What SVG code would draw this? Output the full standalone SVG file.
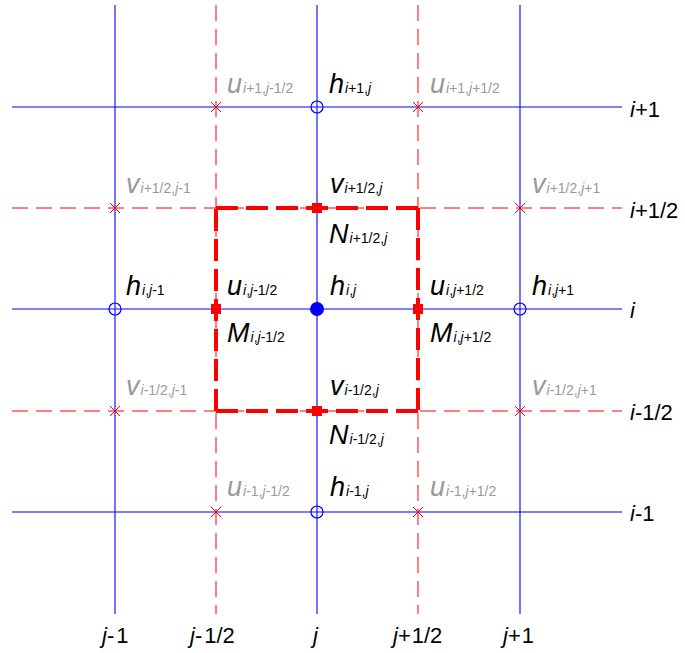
<svg xmlns="http://www.w3.org/2000/svg" width="685" height="653" viewBox="0 0 685 653">
<style>
text{font-family:"Liberation Sans",Arial,sans-serif;}
.L{font-size:27px;}
.A{font-size:22px;fill:#000;}
.k{fill:#000;}
.g{fill:#999;}
.it{font-style:italic;}
.s{font-size:14px;}
.bl{stroke:#0000ff;stroke-width:1.1;fill:none;}
.rd{stroke:#ff0000;stroke-width:1;fill:none;stroke-dasharray:16 8;}
.box{stroke:#ff0000;stroke-width:4;fill:none;stroke-dasharray:22 8;}
.x{stroke:#ff0000;stroke-width:1;fill:none;}
.oc{stroke:#0000ff;stroke-width:1.2;fill:none;}
</style>
<defs>
<g id="xm"><path d="M-5,-5L5,5M-5,5L5,-5" class="x"/></g>
<circle id="oc" r="6" class="oc"/>
<rect id="sq" x="-5" y="-5" width="10" height="10" fill="#ff0000"/>
</defs>
<g id="grid">
<line class="bl" x1="115" y1="5" x2="115" y2="614"/>
<line class="bl" x1="317" y1="5" x2="317" y2="614"/>
<line class="bl" x1="520" y1="5" x2="520" y2="614"/>
<line class="rd" x1="216" y1="5" x2="216" y2="614"/>
<line class="rd" x1="418" y1="5" x2="418" y2="614"/>
<line class="bl" x1="12" y1="107" x2="622" y2="107"/>
<line class="bl" x1="12" y1="309" x2="622" y2="309"/>
<line class="bl" x1="12" y1="512" x2="622" y2="512"/>
<line class="rd" x1="12" y1="208" x2="622" y2="208"/>
<line class="rd" x1="12" y1="411" x2="622" y2="411"/>
</g>
<g id="cell">
<line class="box" x1="216" y1="208" x2="418" y2="208"/>
<line class="box" x1="418" y1="208" x2="418" y2="411"/>
<line class="box" x1="418" y1="411" x2="216" y2="411"/>
<line class="box" x1="216" y1="411" x2="216" y2="208"/>
</g>
<g id="markers">
<use href="#xm" x="216" y="107"/>
<use href="#xm" x="418" y="107"/>
<use href="#xm" x="115" y="208"/>
<use href="#xm" x="520" y="208"/>
<use href="#xm" x="115" y="411"/>
<use href="#xm" x="520" y="411"/>
<use href="#xm" x="216" y="512"/>
<use href="#xm" x="418" y="512"/>
<use href="#oc" x="317" y="107"/>
<use href="#oc" x="115" y="309"/>
<use href="#oc" x="520" y="309"/>
<use href="#oc" x="317" y="512"/>
<circle cx="317" cy="309" r="7" fill="#0000ff"/>
<use href="#sq" x="317" y="208"/>
<use href="#sq" x="216" y="309"/>
<use href="#sq" x="418" y="309"/>
<use href="#sq" x="317" y="411"/>
</g>
<g id="labels">
<text class="L g" x="227" y="93"><tspan class="it">u</tspan><tspan class="s" dx="1"><tspan class="it">i</tspan>+1,<tspan class="it">j</tspan>-1/2</tspan></text>
<text class="L k" x="329" y="93"><tspan class="it">h</tspan><tspan class="s" dx="1"><tspan class="it">i</tspan>+1,<tspan class="it">j</tspan></tspan></text>
<text class="L g" x="430" y="93"><tspan class="it">u</tspan><tspan class="s" dx="1"><tspan class="it">i</tspan>+1,<tspan class="it">j</tspan>+1/2</tspan></text>

<text class="L g" x="126" y="193"><tspan class="it">v</tspan><tspan class="s" dx="1"><tspan class="it">i</tspan>+1/2,<tspan class="it">j</tspan>-1</tspan></text>
<text class="L k" x="330" y="193"><tspan class="it">v</tspan><tspan class="s" dx="1"><tspan class="it">i</tspan>+1/2,<tspan class="it">j</tspan></tspan></text>
<text class="L g" x="532" y="193"><tspan class="it">v</tspan><tspan class="s" dx="1"><tspan class="it">i</tspan>+1/2,<tspan class="it">j</tspan>+1</tspan></text>
<text class="L k" x="329" y="243"><tspan class="it">N</tspan><tspan class="s" dx="1"><tspan class="it">i</tspan>+1/2,<tspan class="it">j</tspan></tspan></text>

<text class="L k" x="126" y="295"><tspan class="it">h</tspan><tspan class="s" dx="1"><tspan class="it">i</tspan>,<tspan class="it">j</tspan>-1</tspan></text>
<text class="L k" x="227" y="295"><tspan class="it">u</tspan><tspan class="s" dx="1"><tspan class="it">i</tspan>,<tspan class="it">j</tspan>-1/2</tspan></text>
<text class="L k" x="330" y="295"><tspan class="it">h</tspan><tspan class="s" dx="1"><tspan class="it">i</tspan>,<tspan class="it">j</tspan></tspan></text>
<text class="L k" x="430" y="295"><tspan class="it">u</tspan><tspan class="s" dx="1"><tspan class="it">i</tspan>,<tspan class="it">j</tspan>+1/2</tspan></text>
<text class="L k" x="532" y="295"><tspan class="it">h</tspan><tspan class="s" dx="1"><tspan class="it">i</tspan>,<tspan class="it">j</tspan>+1</tspan></text>
<text class="L k" x="227" y="342"><tspan class="it">M</tspan><tspan class="s" dx="1"><tspan class="it">i</tspan>,<tspan class="it">j</tspan>-1/2</tspan></text>
<text class="L k" x="430" y="342"><tspan class="it">M</tspan><tspan class="s" dx="1"><tspan class="it">i</tspan>,<tspan class="it">j</tspan>+1/2</tspan></text>

<text class="L g" x="126" y="395"><tspan class="it">v</tspan><tspan class="s" dx="1"><tspan class="it">i</tspan>-1/2,<tspan class="it">j</tspan>-1</tspan></text>
<text class="L k" x="330" y="395"><tspan class="it">v</tspan><tspan class="s" dx="1"><tspan class="it">i</tspan>-1/2,<tspan class="it">j</tspan></tspan></text>
<text class="L g" x="532" y="395"><tspan class="it">v</tspan><tspan class="s" dx="1"><tspan class="it">i</tspan>-1/2,<tspan class="it">j</tspan>+1</tspan></text>
<text class="L k" x="329" y="444"><tspan class="it">N</tspan><tspan class="s" dx="1"><tspan class="it">i</tspan>-1/2,<tspan class="it">j</tspan></tspan></text>

<text class="L g" x="227" y="496"><tspan class="it">u</tspan><tspan class="s" dx="1"><tspan class="it">i</tspan>-1,<tspan class="it">j</tspan>-1/2</tspan></text>
<text class="L k" x="330" y="496"><tspan class="it">h</tspan><tspan class="s" dx="1"><tspan class="it">i</tspan>-1,<tspan class="it">j</tspan></tspan></text>
<text class="L g" x="430" y="496"><tspan class="it">u</tspan><tspan class="s" dx="1"><tspan class="it">i</tspan>-1,<tspan class="it">j</tspan>+1/2</tspan></text>
</g>
<g id="axes">
<text class="A" x="630" y="117"><tspan class="it">i</tspan>+1</text>
<text class="A" x="630" y="218"><tspan class="it">i</tspan>+1/2</text>
<text class="A" x="630" y="318"><tspan class="it">i</tspan></text>
<text class="A" x="630" y="420"><tspan class="it">i</tspan>-1/2</text>
<text class="A" x="630" y="521"><tspan class="it">i</tspan>-1</text>
<text class="A" x="102" y="643"><tspan class="it">j</tspan>-<tspan dx="2">1</tspan></text>
<text class="A" x="190" y="643"><tspan class="it">j</tspan>-<tspan dx="2">1/2</tspan></text>
<text class="A" x="313" y="643"><tspan class="it">j</tspan></text>
<text class="A" x="393" y="643"><tspan class="it">j</tspan>+<tspan dx="1">1/2</tspan></text>
<text class="A" x="503" y="643"><tspan class="it">j</tspan>+<tspan dx="1">1</tspan></text>
</g>
</svg>
